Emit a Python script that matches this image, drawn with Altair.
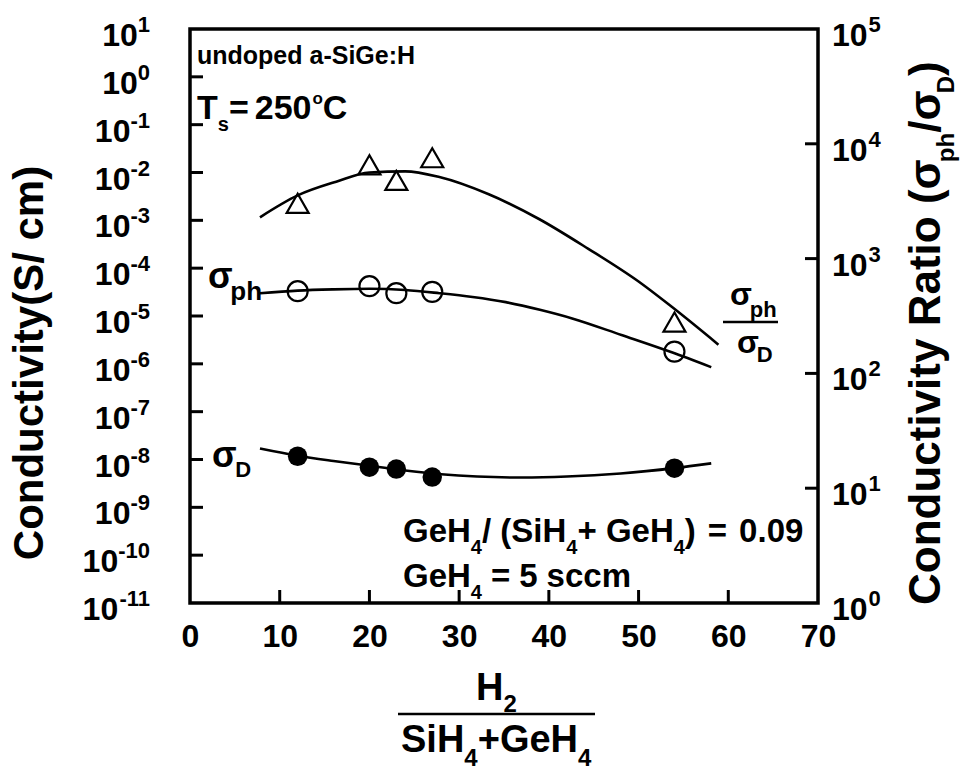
import altair as alt
import pandas as pd

# ---------------- values ----------------
h2_ratio = [12, 20, 23, 27, 54]                          # H2/(SiH4+GeH4)
sigma_ph = [3.3e-5, 4.2e-5, 3.0e-5, 3.2e-5, 1.8e-6]      # photo conductivity S/cm
sigma_d = [1.17e-8, 6.9e-9, 6.3e-9, 4.3e-9, 6.6e-9]      # dark conductivity S/cm
cond_ratio = [3030, 6560, 4800, 7560, 280]               # sigma_ph / sigma_D

fit_ph_x = [7.8, 12, 16, 20, 24, 27.8, 31.5, 35.2, 39, 42.6, 48.1, 53.7, 58.1]
fit_ph_y = [3.0e-5, 3.4e-5, 3.6e-5, 3.7e-5, 3.5e-5, 3.0e-5, 2.5e-5, 1.95e-5, 1.35e-5,
            8.9e-6, 4.0e-6, 1.74e-6, 8.5e-7]
fit_d_x = [7.8, 12, 16, 20, 24, 28, 32, 37, 42, 48, 54, 58.1]
fit_d_y = [1.70e-8, 1.20e-8, 9.3e-9, 7.4e-9, 5.9e-9, 4.9e-9, 4.4e-9, 4.2e-9, 4.4e-9,
           5.1e-9, 6.6e-9, 8.3e-9]
fit_r_x = [7.8, 12, 16.3, 20, 24, 27.8, 33.3, 38.9, 44.4, 50, 53.7, 58.9]
fit_r_y = [2290, 3550, 4680, 5620, 5750, 5130, 3630, 2213, 1216, 631, 380, 178]

x_ticks = [0, 10, 20, 30, 40, 50, 60, 70]
x_inner_ticks = [10, 20, 30, 40, 50, 60]
left_exps = ["1", "0", "-1", "-2", "-3", "-4", "-5", "-6", "-7", "-8", "-9", "-10", "-11"]
right_exps = ["0", "1", "2", "3", "4", "5"]
left_ticks = [10.0 ** int(e) for e in left_exps]
right_ticks = [10.0 ** int(e) for e in right_exps]

# ---------------- layout constants ----------------
W_PLOT, H_PLOT = 628, 574
FONT = "Liberation Sans"
ONE = pd.DataFrame({"k": [0]})

CW = {'A': .722, 'B': .722, 'C': .722, 'D': .722, 'G': .778, 'H': .722, 'R': .722, 'S': .667,
      'T': .611, 'a': .556, 'b': .611, 'c': .556, 'd': .611, 'e': .556, 'h': .611, 'i': .278,
      'm': .889, 'n': .611, 'o': .611, 'p': .611, 's': .556, 't': .333, 'u': .611, 'v': .556,
      'y': .556, ' ': .278, '(': .333, ')': .333, '/': .278, '+': .584, '=': .584, '.': .278,
      '-': .333, ':': .333, 'σ': .62}


def tw(s, size):
    return sum(CW.get(c, .556) for c in s) * size


def label(text, size, x, y, angle=0, align="left"):
    return alt.Chart(ONE).mark_text(
        text=text, font=FONT, fontSize=size, fontWeight="bold", color="black",
        align=align, baseline="alphabetic", angle=angle
    ).encode(x=alt.value(x), y=alt.value(y))


def run(pieces, x0, y0, angle=0):
    """pieces: (text, font size, baseline shift, gap before in px)"""
    out = []
    pos = x0 if angle == 0 else y0
    for piece in pieces:
        text, size, shift = piece[:3]
        gap = piece[3] if len(piece) > 3 else 0
        if angle == 0:
            pos += gap
            out.append(label(text, size, pos, y0 + shift))
            pos += tw(text, size)
        else:
            pos -= gap
            out.append(label(text, size, x0 + shift, pos, angle=270))
            pos -= tw(text, size)
    return out


def hrule(x1, x2, y, w=2.5):
    return alt.Chart(ONE).mark_rule(color="black", strokeWidth=w).encode(
        x=alt.value(x1), x2=alt.value(x2), y=alt.value(y))


TEN, EXP = 32, 22
x_axis = alt.Axis(values=x_ticks, labelFont=FONT, labelFontSize=TEN, labelFontWeight="bold",
                  labelColor="black", ticks=False, domain=False, grid=False, labelPadding=18,
                  title="", labelOverlap=False, labelBound=False, labelFlush=False, format="d")
x_scale = alt.Scale(domain=[0, 70], nice=False, zero=False)
X = alt.X("x:Q", scale=x_scale, axis=x_axis)

yl_scale = alt.Scale(type="log", domain=[1e-11, 10], nice=False)
yr_scale = alt.Scale(type="log", domain=[1, 1e5], nice=False)
YL = alt.Y("v:Q", scale=yl_scale, axis=None)
YR = alt.Y("r:Q", scale=yr_scale, axis=None)

# ---------------- left-axis group ----------------
df_ph = pd.DataFrame({"x": h2_ratio, "v": sigma_ph})
df_d = pd.DataFrame({"x": h2_ratio, "v": sigma_d})
df_fph = pd.DataFrame({"x": fit_ph_x, "v": fit_ph_y})
df_fd = pd.DataFrame({"x": fit_d_x, "v": fit_d_y})

line_ph = alt.Chart(df_fph).mark_line(color="black", strokeWidth=2.6, interpolate="monotone").encode(x=X, y=YL)
line_d = alt.Chart(df_fd).mark_line(color="black", strokeWidth=2.6, interpolate="monotone").encode(x=X, y=YL)
pts_ph = alt.Chart(df_ph).mark_point(shape="circle", filled=False, size=400, stroke="black",
                                     strokeWidth=2.2, opacity=1).encode(x=X, y=YL)
pts_d = alt.Chart(df_d).mark_point(shape="circle", filled=True, size=380, color="black",
                                   opacity=1).encode(x=X, y=YL)

lt_df = pd.DataFrame({"v": left_ticks[1:-1]})
lticks = alt.Chart(lt_df).mark_rule(color="black", strokeWidth=3).encode(
    y=YL, x=alt.value(0), x2=alt.value(13))
xt_df = pd.DataFrame({"x": x_inner_ticks})
xticks = alt.Chart(xt_df).mark_rule(color="black", strokeWidth=3).encode(
    x=X, y=alt.value(H_PLOT), y2=alt.value(H_PLOT - 13))

# left tick labels "10" + superscript exponent, right aligned 40 px left of the axis
left_label_layers = []
groups = {}
for v, e in zip(left_ticks, left_exps):
    groups.setdefault(round(tw(e, EXP), 2), []).append((v, e))
for wexp, items in groups.items():
    gdf = pd.DataFrame({"v": [i[0] for i in items], "e": [i[1] for i in items]})
    left_label_layers.append(
        alt.Chart(gdf).mark_text(text="10", font=FONT, fontSize=TEN, fontWeight="bold",
                                 color="black", align="right", baseline="alphabetic", dy=17)
        .encode(x=alt.value(-40 - wexp), y=YL))
    left_label_layers.append(
        alt.Chart(gdf).mark_text(font=FONT, fontSize=EXP, fontWeight="bold", color="black",
                                 align="right", baseline="alphabetic", dy=3)
        .encode(x=alt.value(-40), y=YL, text="e:N"))

annotations = []
annotations.append(label("Conductivity(S/ cm)", 42, -147, 334, angle=270, align="center"))
annotations.append(label("undoped a-SiGe:H", 25, 7, 35))
annotations += run([("T", 34, 0), ("s", 20, 12), ("=", 34, 0), ("250", 34, 0, 6),
                    ("o", 17, -15, 1), ("C", 34, 0)], 7, 90)
annotations += run([("σ", 36, 0), ("ph", 26, 12)], 18, 259)
annotations += run([("σ", 36, 0), ("D", 22, 10, 1)], 22, 438)
annotations += run([("σ", 32, 0), ("ph", 22, 12)], 540, 276)
annotations.append(hrule(533, 588, 293))
annotations += run([("σ", 32, 0), ("D", 22, 9)], 547, 324)
annotations += run([("GeH", 33, 0), ("4", 20, 12), ("/ (SiH", 33, 0), ("4", 20, 12),
                    ("+ GeH", 33, 0), ("4", 20, 12), (")", 33, 0), ("=", 33, 0, 12),
                    ("0.09", 33, 0, 12)], 213, 513)
annotations += run([("GeH", 33, 0), ("4", 20, 12), ("=", 33, 0, 9), ("5", 33, 0, 9),
                    ("sccm", 33, 0, 9)], 213, 558)
# x-axis title as a fraction
annotations += run([("H", 38, 0), ("2", 24, 12)], 286, 671)
annotations.append(hrule(208, 405, 685))
annotations += run([("SiH", 38, 0), ("4", 24, 14), ("+GeH", 38, 0), ("4", 24, 14)], 211, 723)
# right title
annotations += run([("Conductivity Ratio (σ", 44, 0), ("ph", 24, 14), ("/σ", 44, 0),
                    ("D", 24, 14), (")", 44, 0)], 750, 576, angle=270)

left_group = alt.layer(line_ph, line_d, pts_ph, pts_d, lticks, xticks,
                       *left_label_layers, *annotations)

# ---------------- right-axis group ----------------
df_r = pd.DataFrame({"x": h2_ratio, "r": cond_ratio})
df_fr = pd.DataFrame({"x": fit_r_x, "r": fit_r_y})
line_r = alt.Chart(df_fr).mark_line(color="black", strokeWidth=2.6, interpolate="monotone").encode(x=X, y=YR)
pts_r = alt.Chart(df_r).mark_point(shape="triangle-up", filled=False, size=484, stroke="black",
                                   strokeWidth=2.2, opacity=1).encode(x=X, y=YR)
rt_df = pd.DataFrame({"r": right_ticks[1:-1]})
rticks = alt.Chart(rt_df).mark_rule(color="black", strokeWidth=3).encode(
    y=YR, x=alt.value(W_PLOT), x2=alt.value(W_PLOT - 13))
rl_df = pd.DataFrame({"r": right_ticks, "e": right_exps})
r_ten = alt.Chart(rl_df).mark_text(text="10", font=FONT, fontSize=TEN, fontWeight="bold",
                                   color="black", align="left", baseline="alphabetic", dy=17
                                   ).encode(x=alt.value(W_PLOT + 14), y=YR)
r_exp = alt.Chart(rl_df).mark_text(font=FONT, fontSize=EXP, fontWeight="bold", color="black",
                                   align="left", baseline="alphabetic", dy=3
                                   ).encode(x=alt.value(W_PLOT + 15 + tw("10", TEN)),
                                            y=YR, text="e:N")

right_group = alt.layer(line_r, pts_r, rticks, r_ten, r_exp)

chart = (
    alt.layer(left_group, right_group)
    .resolve_scale(y="independent")
    .properties(width=W_PLOT, height=H_PLOT, background="white",
                autosize=alt.AutoSizeParams(type="none"),
                padding={"left": 190, "top": 29, "right": 144, "bottom": 168})
    .configure_view(stroke="black", strokeWidth=3.5)
)

chart.save("out.html", embed_options={"renderer": "svg", "actions": False})
